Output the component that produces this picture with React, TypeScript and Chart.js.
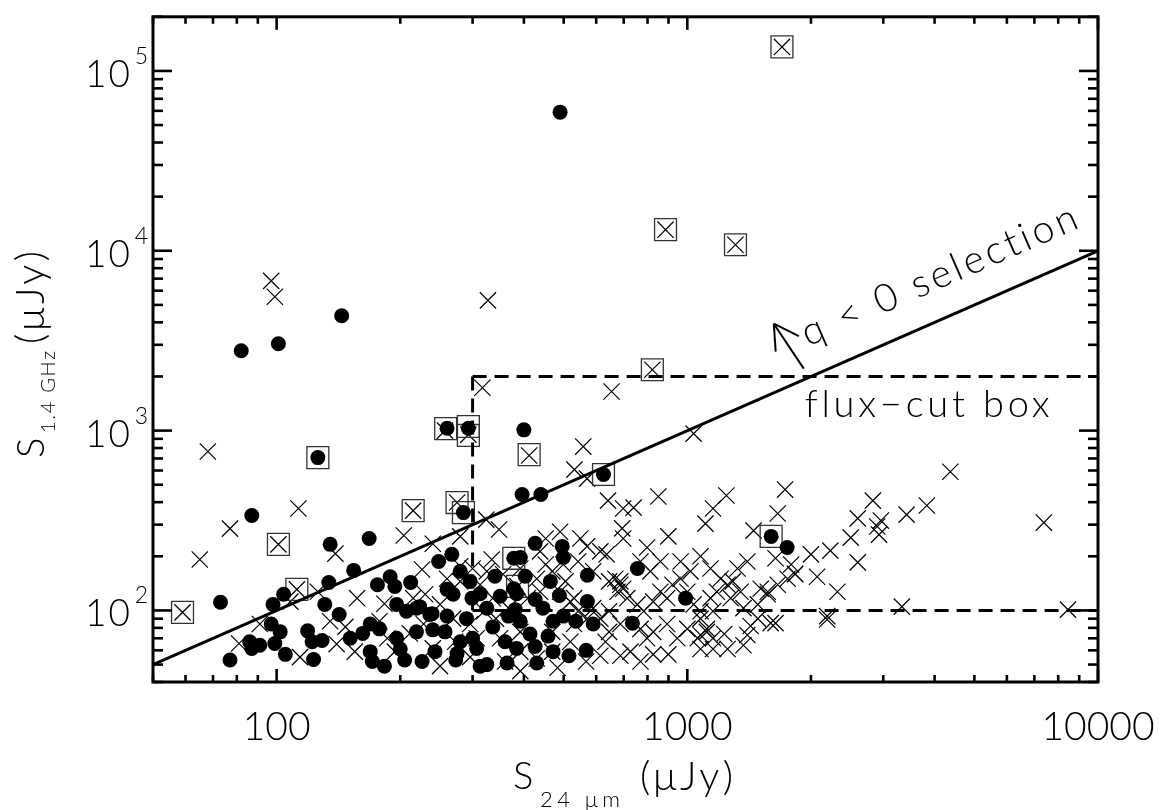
import React, { useEffect, useRef } from "react";
import { Chart, registerables } from "chart.js";

Chart.register(...registerables);

// ---------- axis ranges & tick labels ----------
const X_MIN = 50;
const X_MAX = 10000;
const Y_MIN = 40;
const Y_MAX = 200000;
const xMajorTicks = [100, 1000, 10000];
const xTickLabels = ["100", "1000", "10000"];
const yMajorTicks = [100, 1000, 10000, 100000];
const yTickBase = "10";
const yTickExponents = ["2", "3", "4", "5"];

// ---------- data (S24um, S1.4GHz) in microJy ----------
// filled circles
const dotPts: [number, number][] = [
  [490, 59000], [82, 2780], [101, 3040], [144, 4350], [126, 708], [260, 1030], [293, 1030], [400, 1010],
  [396, 441], [440, 441], [87, 337], [73, 111], [625, 570], [1600, 258], [1750, 224], [990, 117],
  [285, 350], [135, 233], [168, 251], [248, 187], [154, 167], [134, 143], [104, 123], [98, 108],
  [131, 108], [142, 95], [176, 139], [189, 154], [194, 136], [212, 143], [196, 108], [207, 99],
  [219, 103], [236, 95], [97, 84], [102, 76], [119, 77], [122, 67], [129, 68], [86, 67],
  [87, 61.5], [91, 64], [99, 65.5], [105, 57], [77, 53], [123, 53.4], [151, 70], [162, 74.5],
  [169, 59], [171, 52], [183, 49], [169, 84], [178, 79], [196, 70], [200, 61], [205, 53],
  [219, 76], [226, 52], [426, 236], [496, 227], [499, 197], [378, 195], [392, 197], [267, 205],
  [571, 157], [756, 171], [735, 85], [378, 132], [488, 121], [571, 112], [590, 84], [567, 60],
  [515, 56], [471, 59], [430, 51], [364, 51], [325, 50], [273, 53], [243, 59], [240, 78],
  [260, 93], [239, 96], [260, 131], [269, 123], [299, 117], [313, 124], [290, 90], [300, 70],
  [307, 61.5], [350, 120], [384, 124], [426, 115], [445, 103], [381, 101], [325, 103], [336, 81],
  [360, 67], [384, 61.5], [414, 74], [426, 63], [458, 72], [499, 93], [275, 57.5], [223, 105],
  [280, 165], [340, 155], [296, 145], [403, 155], [464, 145], [535, 87], [257, 76], [280, 67],
  [367, 93], [471, 87], [313, 49], [392, 87],
];

// crosses
const crossPts: [number, number][] = [
  [97, 6800], [99, 5550], [327, 5300], [68, 765], [317, 1730], [257, 1000], [293, 950], [412, 727],
  [822, 2180], [885, 13100], [1310, 10800], [1700, 136000], [654, 1650], [1036, 962], [558, 815], [531, 607],
  [4370, 590], [77, 285], [113, 369], [215, 359], [101, 233], [65, 192], [139, 207], [204, 261],
  [240, 235], [226, 169], [112, 131], [59, 97.5], [126, 127], [157, 117], [183, 109], [215, 117],
  [228, 84], [91, 84], [140, 65], [81, 65.5], [155, 59], [186, 70], [211, 74.5], [240, 61.5],
  [178, 87], [570, 541], [275, 398], [324, 320], [348, 282], [641, 408], [850, 430], [698, 369],
  [740, 373], [694, 286], [698, 251], [1107, 304], [1155, 369], [899, 258], [798, 224], [636, 205],
  [570, 227], [334, 192], [280, 258], [280, 176], [963, 187], [893, 117], [687, 145], [386, 136],
  [1730, 470], [1245, 436], [2830, 408], [3830, 383], [3420, 341], [2600, 325], [2960, 316], [2900, 293],
  [2930, 264], [2500, 254], [7380, 308], [1660, 346], [1450, 278], [1640, 195], [2000, 205], [2230, 215],
  [2600, 185], [2320, 127], [2190, 93], [2190, 89], [3330, 105], [8450, 101], [1830, 160], [1570, 127],
  [1640, 85], [645, 145], [668, 150], [687, 139], [676, 127], [698, 132], [714, 117], [756, 108],
  [783, 99], [826, 112], [860, 127], [920, 139], [963, 150], [1000, 127], [1036, 108], [1077, 90],
  [1116, 76], [1155, 70], [1060, 70], [1000, 79], [945, 70], [893, 84], [826, 76], [798, 70],
  [769, 79], [727, 59], [826, 57], [899, 57], [687, 84], [645, 76], [614, 90], [571, 90],
  [530, 84], [542, 99], [590, 103], [645, 99], [530, 117], [490, 127], [469, 165], [452, 180],
  [499, 180], [542, 187], [614, 213], [590, 165], [452, 251], [490, 274], [549, 251], [438, 213],
  [469, 59], [430, 54], [392, 59], [342, 90], [336, 117], [320, 99], [296, 84], [269, 90],
  [250, 108], [230, 123], [260, 150], [280, 145], [313, 139], [300, 171], [325, 165], [356, 159],
  [392, 171], [430, 150], [409, 117], [367, 103], [307, 70], [350, 70], [392, 76], [469, 76],
  [519, 67], [483, 48], [1139, 171], [1205, 150], [1253, 139], [1290, 145], [1348, 127], [1180, 127],
  [1139, 117], [1325, 171], [1400, 187], [1509, 132], [1570, 123], [1660, 139], [1755, 150], [1830, 159],
  [1790, 180], [1485, 108], [1370, 103], [1275, 117], [1077, 99], [1155, 99], [1116, 79], [1230, 74],
  [1426, 82], [1485, 90], [1596, 85], [1400, 73], [1253, 61], [1155, 61], [1370, 64], [1077, 73],
  [1077, 61], [108, 112], [135, 87], [147, 81], [114, 55], [194, 59], [250, 49], [296, 55],
  [272, 67], [360, 52], [392, 46], [567, 52], [614, 56], [687, 56], [769, 52], [632, 67],
  [519, 112], [505, 145], [438, 127], [813, 165], [860, 187], [769, 187], [1018, 165], [1077, 200],
  [2070, 154],
];

// open squares
const squarePts: [number, number][] = [
  [1700, 136000], [885, 13100], [1310, 10800], [822, 2180], [126, 708], [258, 1025], [293, 1054], [293, 940],
  [412, 735], [625, 570], [275, 398], [285, 350], [215, 359], [101, 233], [378, 195], [112, 131],
  [59, 97.5], [386, 136], [1600, 258],
];

// q = 0 line (S1.4 = S24) and flux-cut box
const qLine: [number, number][] = [[50, 50], [10000, 10000]];
const boxTop: [number, number][] = [[300, 2000], [10000, 2000]];
const boxLeft: [number, number][] = [[300, 2000], [300, 100]];
const boxBottom: [number, number][] = [[300, 100], [10000, 100]];

// annotations (data coordinates)
const arrowTail: [number, number] = [1921, 2210];
const arrowTip: [number, number] = [1624, 3930];
const qLabel = "q < 0 selection";
const qLabelAnchor: [number, number] = [1967, 2930];
const boxLabel = "flux\u2212cut box";
const boxLabelAnchor: [number, number] = [1931, 1197];

const F = "Lato, 'Open Sans', sans-serif";

function toXY(pts: [number, number][]) {
  return pts.map(([x, y]) => ({ x, y }));
}

// draws text so that its advance width equals target (adjusting letter spacing)
function spaced(
  ctx: CanvasRenderingContext2D,
  text: string,
  x: number,
  y: number,
  target: number,
  align: "left" | "center" | "right" = "left"
) {
  const c = ctx as any;
  c.letterSpacing = "0px";
  ctx.textAlign = "left";
  const w = ctx.measureText(text).width;
  const ls = text.length > 1 ? (target - w) / (text.length - 1) : 0;
  c.letterSpacing = ls + "px";
  let x0 = x;
  if (align === "center") x0 = x - target / 2;
  if (align === "right") x0 = x - target;
  ctx.fillText(text, x0, y);
  c.letterSpacing = "0px";
}

const idlPlugin = {
  id: "idlFrame",
  afterDatasetsDraw(chart: any) {
    const ctx: CanvasRenderingContext2D = chart.ctx;
    const xs = chart.scales.x;
    const ys = chart.scales.y;
    const { left, right, top, bottom } = chart.chartArea;
    const seg = (x1: number, y1: number, x2: number, y2: number) => {
      ctx.beginPath();
      ctx.moveTo(x1, y1);
      ctx.lineTo(x2, y2);
      ctx.stroke();
    };
    ctx.save();
    ctx.strokeStyle = "#000";
    ctx.fillStyle = "#000";
    ctx.lineCap = "butt";
    ctx.textBaseline = "alphabetic";

    // ticks
    ctx.lineWidth = 2.6;
    for (let e = 1; e <= 5; e++) {
      for (let m = 1; m <= 9; m++) {
        const v = m * Math.pow(10, e);
        if (v >= X_MIN && v <= X_MAX) {
          const px = xs.getPixelForValue(v);
          const L = m === 1 ? 13 : 7;
          seg(px, bottom, px, bottom - L);
          seg(px, top, px, top + L);
        }
        if (v >= Y_MIN && v <= Y_MAX) {
          const py = ys.getPixelForValue(v);
          const L = m === 1 ? 19 : 10;
          seg(left, py, left + L, py);
          seg(right, py, right - L, py);
        }
      }
    }
    ctx.lineWidth = 3;
    ctx.strokeRect(left, top, right - left, bottom - top);

    // x tick labels
    ctx.font = `300 39px ${F}`;
    ctx.textAlign = "center";
    xMajorTicks.forEach((v, i) => {
      ctx.fillText(xTickLabels[i], xs.getPixelForValue(v), 740);
    });

    // y tick labels 10^n
    yMajorTicks.forEach((v, i) => {
      const py = ys.getPixelForValue(v);
      ctx.font = `300 23px ${F}`;
      ctx.textAlign = "right";
      ctx.fillText(yTickExponents[i], 148, py - 7);
      ctx.font = `300 37px ${F}`;
      spaced(ctx, yTickBase, 130, py + 16, 45, "right");
    });

    // x title
    ctx.font = `300 38px ${F}`;
    ctx.textAlign = "left";
    ctx.fillText("S", 513, 789);
    ctx.font = `300 22px ${F}`;
    spaced(ctx, "24 \u03bcm", 540, 807, 80);
    ctx.font = `300 40px ${F}`;
    spaced(ctx, "(\u03bcJy)", 640, 790, 93);

    // y title (rotated)
    ctx.save();
    ctx.translate(44, 458);
    ctx.rotate(-Math.PI / 2);
    ctx.font = `300 38px ${F}`;
    ctx.textAlign = "left";
    ctx.fillText("S", 0, 0);
    ctx.font = `300 20px ${F}`;
    spaced(ctx, "1.4 GHz", 25, 11, 82);
    ctx.font = `300 40px ${F}`;
    spaced(ctx, "(\u03bcJy)", 114, 0, 93);
    ctx.restore();

    // arrow
    const tx = xs.getPixelForValue(arrowTip[0]);
    const ty = ys.getPixelForValue(arrowTip[1]);
    const bx = xs.getPixelForValue(arrowTail[0]);
    const by = ys.getPixelForValue(arrowTail[1]);
    ctx.lineWidth = 2;
    seg(bx, by, tx, ty);
    const ang = Math.atan2(by - ty, bx - tx);
    const armL = 28;
    [0.52, -0.52].forEach((d) => {
      seg(tx, ty, tx + armL * Math.cos(ang + d), ty + armL * Math.sin(ang + d));
    });

    // q<0 label along the line
    const lx1 = xs.getPixelForValue(qLine[0][0]);
    const ly1 = ys.getPixelForValue(qLine[0][1]);
    const lx2 = xs.getPixelForValue(qLine[1][0]);
    const ly2 = ys.getPixelForValue(qLine[1][1]);
    const lineAng = Math.atan2(ly2 - ly1, lx2 - lx1);
    ctx.save();
    ctx.translate(xs.getPixelForValue(qLabelAnchor[0]), ys.getPixelForValue(qLabelAnchor[1]));
    ctx.rotate(lineAng);
    ctx.font = `300 39px ${F}`;
    spaced(ctx, qLabel, 0, 0, 298);
    ctx.restore();

    // flux-cut box label
    ctx.font = `300 38px ${F}`;
    spaced(ctx, boxLabel, xs.getPixelForValue(boxLabelAnchor[0]), ys.getPixelForValue(boxLabelAnchor[1]), 245);

    ctx.restore();
  },
};

export default function App() {
  const ref = useRef<HTMLCanvasElement | null>(null);
  useEffect(() => {
    if (!ref.current) return;
    const lineDs = (pts: [number, number][], dash: number[]) => ({
      type: "line" as const,
      data: toXY(pts),
      borderColor: "#000",
      borderWidth: 3,
      borderDash: dash,
      pointRadius: 0,
      showLine: true,
      fill: false,
      tension: 0,
      order: 0,
    });
    const chart = new Chart(ref.current, {
      type: "scatter",
      data: {
        datasets: [
          lineDs(qLine, []) as any,
          lineDs(boxTop, [14, 8]) as any,
          lineDs(boxLeft, [14, 8]) as any,
          lineDs(boxBottom, [14, 8]) as any,
          {
            data: toXY(dotPts),
            pointStyle: "circle",
            pointRadius: 7.5,
            backgroundColor: "#000",
            borderColor: "#000",
            borderWidth: 0,
            order: 1,
          },
          {
            data: toXY(squarePts),
            pointStyle: "rect",
            pointRadius: 15.5,
            backgroundColor: "rgba(0,0,0,0)",
            borderColor: "#333",
            borderWidth: 1.3,
            order: 2,
          },
          {
            data: toXY(crossPts),
            pointStyle: "crossRot",
            pointRadius: 11.5,
            backgroundColor: "#000",
            borderColor: "#000",
            borderWidth: 1.2,
            order: 3,
          },
        ],
      },
      options: {
        responsive: false,
        animation: false,
        events: [],
        layout: { padding: { left: 153, top: 14, right: 63, bottom: 128 } },
        plugins: { legend: { display: false }, tooltip: { enabled: false }, title: { display: false } },
        scales: {
          x: { type: "logarithmic", min: X_MIN, max: X_MAX, display: false },
          y: { type: "logarithmic", min: Y_MIN, max: Y_MAX, display: false },
        },
      },
      plugins: [idlPlugin],
    });
    return () => chart.destroy();
  }, []);
  return (
    <div style={{ position: "absolute", left: 0, top: 0, width: 1161, height: 810, background: "#fff" }}>
      <canvas ref={ref} width={1161} height={810} style={{ display: "block" }} />
    </div>
  );
}
